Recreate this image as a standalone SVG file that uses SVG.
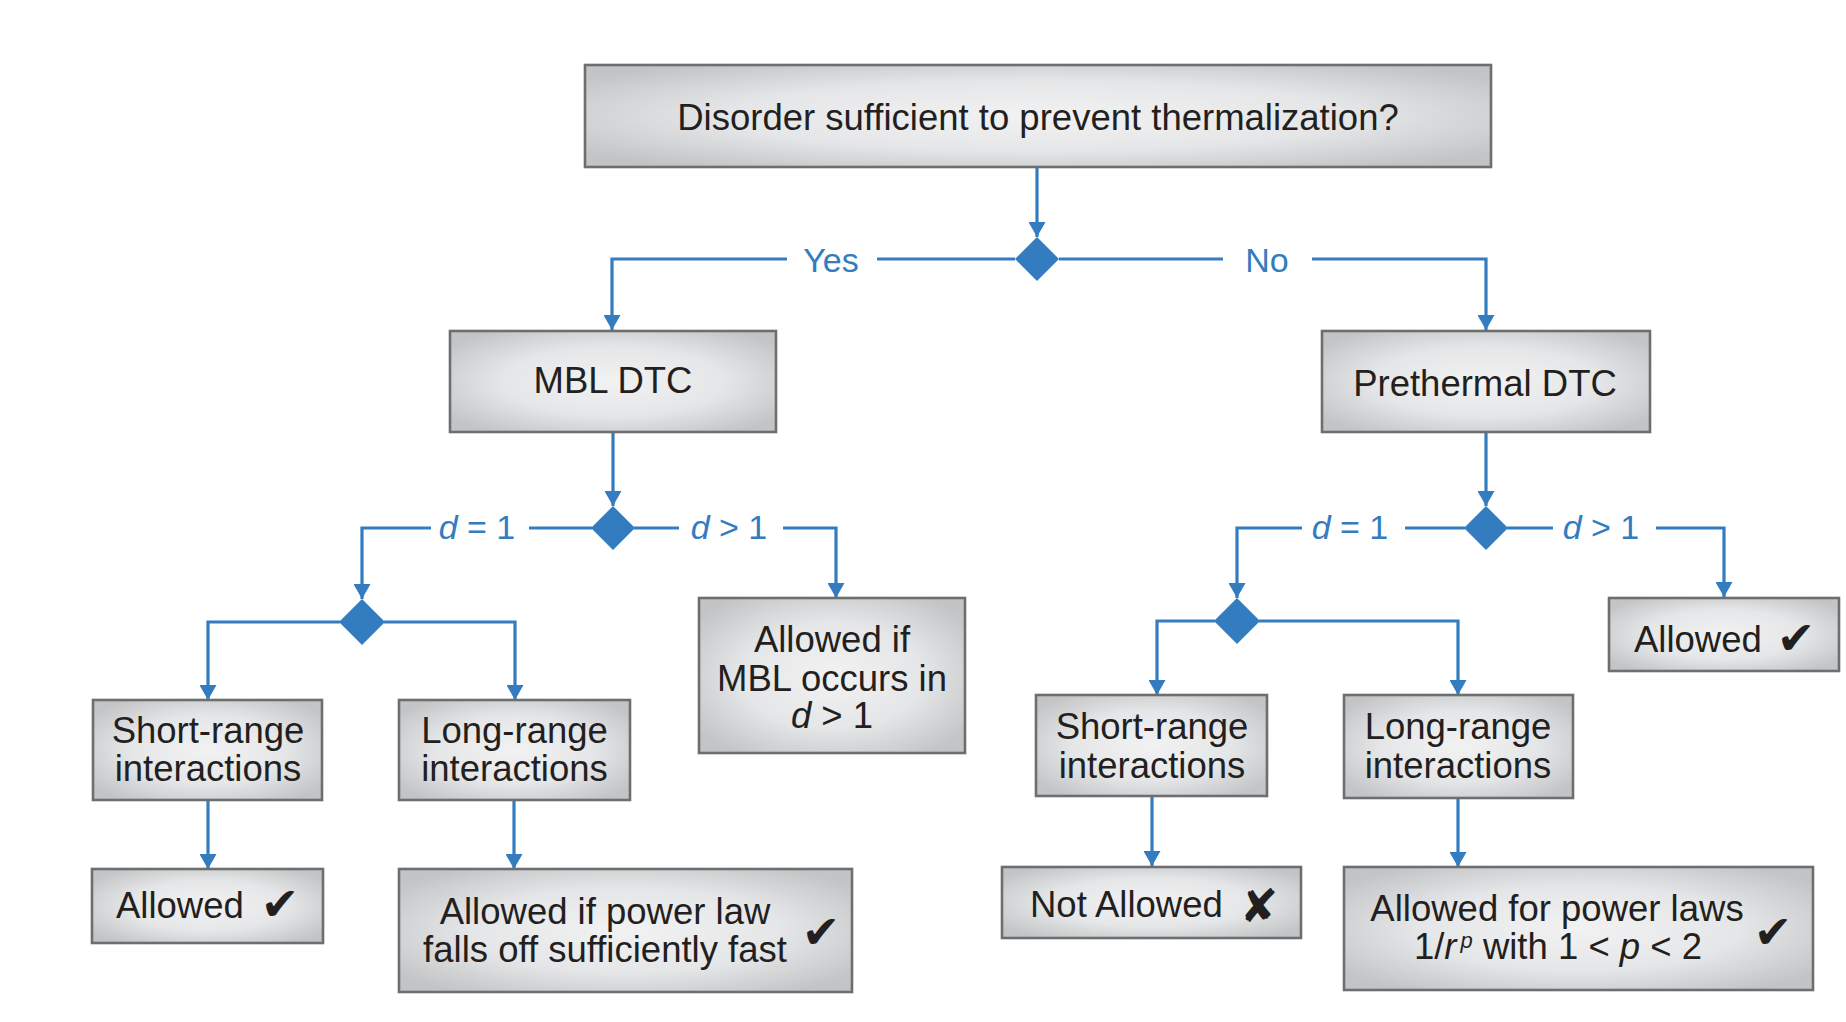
<svg xmlns="http://www.w3.org/2000/svg" width="1846" height="1022" viewBox="0 0 1846 1022">
<defs>
<radialGradient id="boxfill" cx="50%" cy="50%" r="62%">
<stop offset="0" stop-color="#f2f2f3"/>
<stop offset="0.55" stop-color="#e5e6e7"/>
<stop offset="1" stop-color="#c3c4c6"/>
</radialGradient>
<marker id="arr" viewBox="0 0 15 17" refX="15" refY="8.5" markerWidth="15" markerHeight="17" markerUnits="userSpaceOnUse" orient="auto">
<path d="M0,0 L15,8.5 L0,17 z" fill="#337cc0"/>
</marker>
</defs>
<style>
.box{fill:url(#boxfill);stroke:#6d6e70;stroke-width:2.6}
.t{font-family:"Liberation Sans",Arial,sans-serif;font-size:36.5px;fill:#231f20;text-anchor:middle}
.ts{font-family:"Liberation Sans",Arial,sans-serif;font-size:36.5px;fill:#231f20}
.lbl{font-family:"Liberation Sans",Arial,sans-serif;font-size:34px;fill:#337cc0;text-anchor:middle}
.mk{font-family:"DejaVu Sans",sans-serif;font-size:46px;fill:#231f20;text-anchor:middle}
.c{fill:none;stroke:#337cc0;stroke-width:3.2}
.a{marker-end:url(#arr)}
.dia{fill:#337cc0}
</style>
<rect width="1846" height="1022" fill="#ffffff"/>

<g id="connectors">
<path class="c a" d="M1037,167 V237"/>
<path class="c" d="M1015,259 H877"/>
<path class="c a" d="M787,259 H612 V330"/>
<path class="c" d="M1059,259 H1223"/>
<path class="c a" d="M1312,259 H1486 V330"/>
<path class="c a" d="M613,432 V506"/>
<path class="c" d="M592,528 H529"/>
<path class="c a" d="M431,528 H362 V599"/>
<path class="c" d="M634,528 H679"/>
<path class="c a" d="M783,528 H836 V598"/>
<path class="c a" d="M340,622 H208 V700"/>
<path class="c a" d="M384,622 H515 V700"/>
<path class="c a" d="M208,800 V869"/>
<path class="c a" d="M514,800 V869"/>
<path class="c a" d="M1486,432 V506"/>
<path class="c" d="M1465,528 H1405"/>
<path class="c a" d="M1302,528 H1237 V598"/>
<path class="c" d="M1507,528 H1553"/>
<path class="c a" d="M1656,528 H1724 V597"/>
<path class="c a" d="M1215,621 H1157 V695"/>
<path class="c a" d="M1259,621 H1458 V695"/>
<path class="c a" d="M1152,796 V866"/>
<path class="c a" d="M1458,797 V867"/>
<text class="lbl" x="831" y="272">Yes</text>
<text class="lbl" x="1267" y="272">No</text>
<text class="lbl" x="477" y="539"><tspan font-style="italic">d</tspan> = 1</text>
<text class="lbl" x="729" y="539"><tspan font-style="italic">d</tspan> &gt; 1</text>
<text class="lbl" x="1350" y="539"><tspan font-style="italic">d</tspan> = 1</text>
<text class="lbl" x="1601" y="539"><tspan font-style="italic">d</tspan> &gt; 1</text>
</g>

<g id="d1"><polygon class="dia" points="1037,237 1059,259 1037,281 1015,259"/></g>
<g id="d2"><polygon class="dia" points="613,506 635,528 613,550 591,528"/></g>
<g id="d3"><polygon class="dia" points="362,599 385,622 362,645 339,622"/></g>
<g id="d4"><polygon class="dia" points="1486,506 1508,528 1486,550 1464,528"/></g>
<g id="d5"><polygon class="dia" points="1237,598 1260,621 1237,644 1214,621"/></g>

<g id="n-top">
<rect class="box" x="585" y="65" width="906" height="102"/>
<text class="t" x="1038" y="130">Disorder sufficient to prevent thermalization?</text>
</g>
<g id="n-mbl">
<rect class="box" x="450" y="331" width="326" height="101"/>
<text class="t" x="613" y="393">MBL DTC</text>
</g>
<g id="n-pre">
<rect class="box" x="1322" y="331" width="328" height="101"/>
<text class="t" x="1485" y="396">Prethermal DTC</text>
</g>
<g id="n-mbl-d2">
<rect class="box" x="699" y="598" width="266" height="155"/>
<text class="t" x="832" y="652">Allowed if</text>
<text class="t" x="832" y="691">MBL occurs in</text>
<text class="t" x="832" y="728"><tspan font-style="italic">d</tspan> &gt; 1</text>
</g>
<g id="n-short-l">
<rect class="box" x="93" y="700" width="229" height="100"/>
<text class="t" x="208" y="743">Short-range</text>
<text class="t" x="208" y="781">interactions</text>
</g>
<g id="n-long-l">
<rect class="box" x="399" y="700" width="231" height="100"/>
<text class="t" x="514.5" y="743">Long-range</text>
<text class="t" x="514.5" y="781">interactions</text>
</g>
<g id="n-allowed-l">
<rect class="box" x="92" y="869" width="231" height="74"/>
<text class="ts" x="116" y="918">Allowed</text>
<text class="mk" x="280" y="920">✔</text>
</g>
<g id="n-power-l">
<rect class="box" x="399" y="869" width="453" height="123"/>
<text class="t" x="605" y="924">Allowed if power law</text>
<text class="t" x="605" y="962">falls off sufficiently fast</text>
<text class="mk" x="821" y="948">✔</text>
</g>
<g id="n-short-r">
<rect class="box" x="1036" y="695" width="231" height="101"/>
<text class="t" x="1152" y="739">Short-range</text>
<text class="t" x="1152" y="778">interactions</text>
</g>
<g id="n-long-r">
<rect class="box" x="1344" y="695" width="229" height="103"/>
<text class="t" x="1458" y="739">Long-range</text>
<text class="t" x="1458" y="778">interactions</text>
</g>
<g id="n-notallowed">
<rect class="box" x="1002" y="867" width="299" height="71"/>
<text class="ts" x="1030" y="917">Not Allowed</text>
<text class="mk" x="1259" y="922" font-size="42">✘</text>
</g>
<g id="n-power-r">
<rect class="box" x="1344" y="867" width="469" height="123"/>
<text class="t" x="1557" y="921">Allowed for power laws</text>
<text class="t" x="1558" y="959">1/<tspan font-style="italic">r</tspan><tspan font-style="italic" font-size="22" dx="4" dy="-11">p</tspan><tspan dy="11"> with 1 &lt; </tspan><tspan font-style="italic">p</tspan> &lt; 2</text>
<text class="mk" x="1773" y="948">✔</text>
</g>
<g id="n-allowed-r">
<rect class="box" x="1609" y="598" width="230" height="73"/>
<text class="ts" x="1634" y="652">Allowed</text>
<text class="mk" x="1796" y="654">✔</text>
</g>
</svg>
